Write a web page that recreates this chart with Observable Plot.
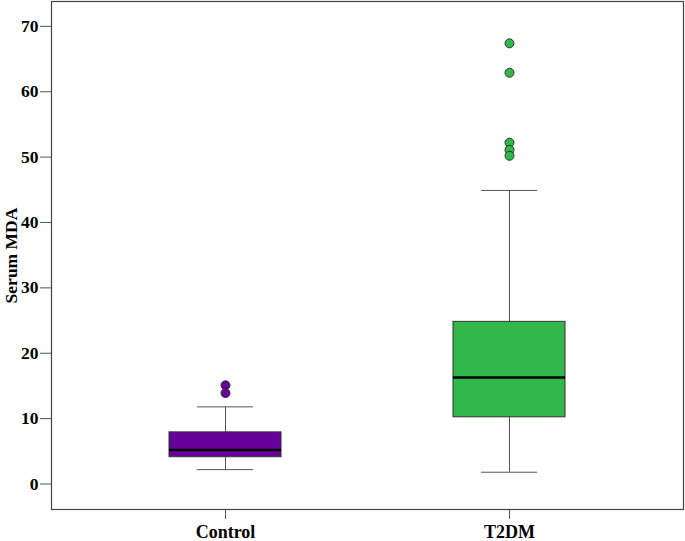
<!DOCTYPE html>
<html>
<head>
<meta charset="utf-8">
<script src="https://cdn.jsdelivr.net/npm/d3@7"></script>
<script src="https://cdn.jsdelivr.net/npm/@observablehq/plot@0.6"></script>
<style>
  html, body { margin: 0; padding: 0; background: #fff; }
  svg { display: block; }
</style>
</head>
<body>
<div id="chart"></div>
<script>
// Summary statistics
const groups = ["Control", "T2DM"];
const colors = ["#660099", "#31b74a"];
const whiskerLow = [2.2, 1.8];
const q1 = [4.1, 10.2];
const median = [5.2, 16.3];
const q3 = [7.9, 24.8];
const whiskerHigh = [11.8, 44.9];
const outlierGroup = ["Control", "Control", "T2DM", "T2DM", "T2DM", "T2DM", "T2DM"];
const outlierValue = [15.1, 13.9, 67.4, 62.9, 52.2, 51.1, 50.2];
const yTicks = [0, 10, 20, 30, 40, 50, 60, 70];

const stats = groups.map((g, i) => ({
  group: g, color: colors[i], lo: whiskerLow[i], q1: q1[i], med: median[i], q3: q3[i], hi: whiskerHigh[i]
}));
const outliers = outlierGroup.map((g, i) => ({group: g, value: outlierValue[i], color: colors[groups.indexOf(g)]}));

const font = "'Liberation Serif', 'Times New Roman', serif";

const chart = Plot.plot({
  width: 685,
  height: 541,
  marginLeft: 51,
  marginRight: 2,
  marginTop: 1,
  marginBottom: 32,
  style: {fontFamily: font, fontSize: "18px", fontWeight: "bold", color: "#000", background: "#fff"},
  x: {type: "band", domain: groups, paddingInner: 0.606, paddingOuter: 0.415, label: null},
  y: {domain: [-3.9, 73.8], label: "Serum MDA"},
  marks: [
    Plot.ruleX(stats, {x: "group", y1: "lo", y2: "q1", stroke: "#555", strokeWidth: 1}),
    Plot.ruleX(stats, {x: "group", y1: "q3", y2: "hi", stroke: "#555", strokeWidth: 1}),
    Plot.tickY(stats, {x: "group", y: "lo", stroke: "#555", strokeWidth: 1, insetLeft: 28, insetRight: 28}),
    Plot.tickY(stats, {x: "group", y: "hi", stroke: "#555", strokeWidth: 1, insetLeft: 28, insetRight: 28}),
    Plot.barY(stats, {x: "group", y1: "q1", y2: "q3", fill: "color", stroke: "#333", strokeWidth: 1}),
    Plot.tickY(stats, {x: "group", y: "med", stroke: "#000", strokeWidth: 2.5}),
    Plot.dot(outliers, {x: "group", y: "value", fill: "color", stroke: "#333", strokeWidth: 1, r: 4.5}),
    Plot.axisY({ticks: yTicks, tickSize: 11, tickPadding: 2, stroke: "#555", fontSize: 17.5, fontWeight: "bold",
      label: "Serum MDA", labelAnchor: "center", labelOffset: 47, labelArrow: "none"}),
    Plot.axisX({tickSize: 10, tickPadding: 6, stroke: "#555", fontSize: 18, fontWeight: "bold", label: null}),
    Plot.frame({stroke: "#444", strokeWidth: 1.2})
  ]
});
document.getElementById("chart").appendChild(chart);
</script>
</body>
</html>
